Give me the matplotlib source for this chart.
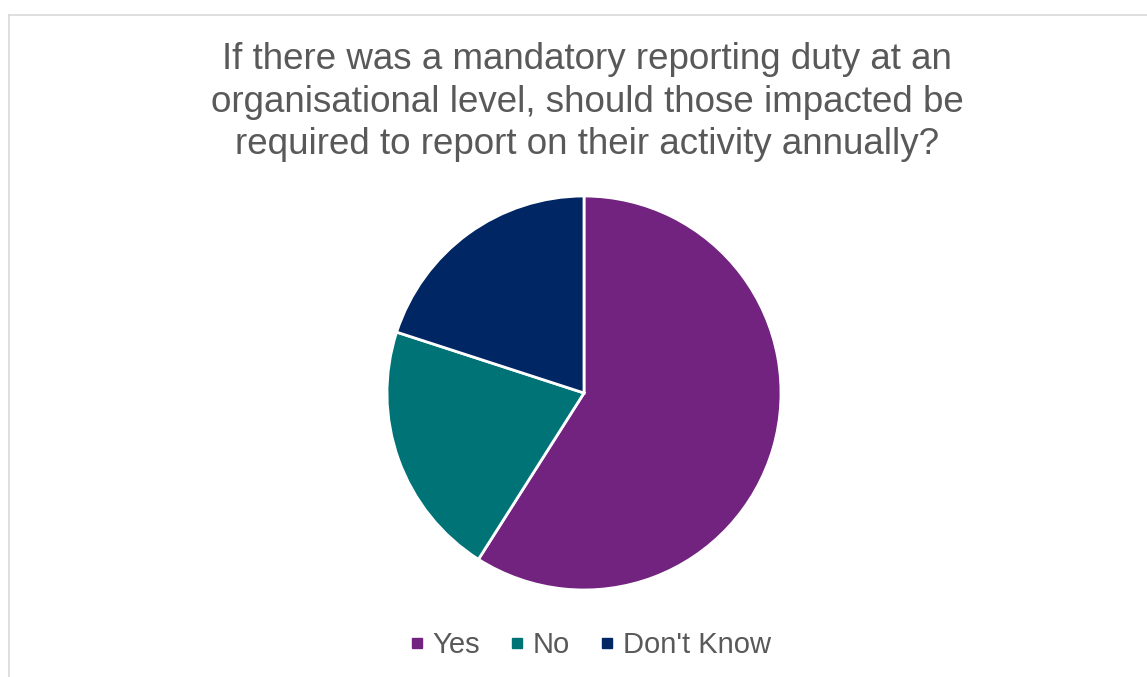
import matplotlib.pyplot as plt
from matplotlib.lines import Line2D

plt.rcParams['font.family'] = ['Liberation Sans', 'DejaVu Sans']

labels = ['Yes', 'No', "Don't Know"]
shares = [59, 21, 20]
colors = ['#71237F', '#007377', '#002663']
title = ('If there was a mandatory reporting duty at an\n'
         'organisational level, should those impacted be\n'
         'required to report on their activity annually?')

W, H = 1147, 677
fig = plt.figure(figsize=(W / 100, H / 100), dpi=100)

# chart area border (left and top edges visible)
fig.add_artist(Line2D([9 / W, 9 / W], [0, 1 - 15 / H], color='#D9D9D9', lw=1.2))
fig.add_artist(Line2D([9 / W, 1], [1 - 15 / H, 1 - 15 / H], color='#D9D9D9', lw=1.2))

fig.text(587 / W, 1 - 102 / H, title, ha='center', va='center',
         fontsize=26.5, color='#595959', linespacing=1.28)

# pie: centre (584, 393), radius 197 px
r = 197
ax = fig.add_axes([(584 - r) / W, 1 - (393 + r) / H, 2 * r / W, 2 * r / H])
ax.pie(shares, colors=colors, startangle=90, counterclock=False,
       wedgeprops=dict(edgecolor='white', linewidth=2))
ax.set_xlim(-1, 1)
ax.set_ylim(-1, 1)
ax.set_aspect('auto')
ax.axis('off')

handles = [Line2D([], [], marker='s', linestyle='none', markersize=7,
                  markerfacecolor=c, markeredgecolor=c) for c in colors]
leg = fig.legend(handles, labels, loc='center', bbox_to_anchor=(590 / W, 1 - 645 / H),
                 ncol=3, frameon=False, fontsize=21, handlelength=0.5,
                 handletextpad=0.3, columnspacing=1.0)
for t in leg.get_texts():
    t.set_color('#595959')

fig.savefig('out.png', dpi=100)
